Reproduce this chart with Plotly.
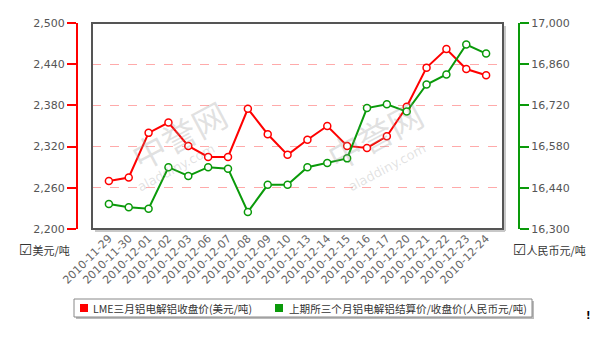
import plotly.graph_objects as go

W, H = 591, 337

dates = ["2010-11-29", "2010-11-30", "2010-12-01", "2010-12-02", "2010-12-03",
         "2010-12-06", "2010-12-07", "2010-12-08", "2010-12-09", "2010-12-10",
         "2010-12-13", "2010-12-14", "2010-12-15", "2010-12-16", "2010-12-17",
         "2010-12-20", "2010-12-21", "2010-12-22", "2010-12-23", "2010-12-24"]
lme = [2270, 2275, 2340, 2355, 2321, 2305, 2305, 2375, 2338, 2308,
       2330, 2350, 2321, 2318, 2335, 2378, 2435, 2462, 2433, 2424]
shfe = [16385, 16374, 16369, 16510, 16480, 16510, 16505, 16358, 16450, 16450,
        16510, 16524, 16540, 16711, 16724, 16699, 16791, 16825, 16927, 16896]
left_ticks = [2200, 2260, 2320, 2380, 2440, 2500]
right_ticks = [16300, 16440, 16580, 16720, 16860, 17000]
name_lme = "LME三月铝电解铝收盘价(美元/吨)"
name_shfe = "上期所三个月铝电解铝结算价/收盘价(人民币元/吨)"
left_unit = "美元/吨"
right_unit = "人民币元/吨"

RED = "#ff0000"
GREEN = "#0a9a0a"
FONT = "DejaVu Sans, Verdana, sans-serif"
CJK = "Noto Sans CJK SC, sans-serif"
CHECK = "<span style='font-family:DejaVu Sans;font-size:15px'>☑</span>"

px = lambda x: x / W
py = lambda y: 1 - y / H

x0p, x1p, y0p, y1p = 92, 503, 23, 229

fig = go.Figure()
fig.add_trace(go.Scatter(
    x=dates, y=lme, mode="lines+markers", name=name_lme, showlegend=False,
    line=dict(color=RED, width=2),
    marker=dict(size=7, color="white", line=dict(color=RED, width=1.5)),
    yaxis="y"))
fig.add_trace(go.Scatter(
    x=dates, y=shfe, mode="lines+markers", name=name_shfe, showlegend=False,
    line=dict(color=GREEN, width=2),
    marker=dict(size=7, color="white", line=dict(color=GREEN, width=1.5)),
    yaxis="y2"))

shapes = []
# frame shadow
shapes.append(dict(type="line", xref="paper", yref="paper",
                   x0=px(x0p + 3), x1=px(x1p + 2), y0=py(y1p + 2), y1=py(y1p + 2),
                   line=dict(color="#c8c8c8", width=2), layer="below"))
shapes.append(dict(type="line", xref="paper", yref="paper",
                   x0=px(x1p + 2), x1=px(x1p + 2), y0=py(y0p + 3), y1=py(y1p + 2),
                   line=dict(color="#c8c8c8", width=2), layer="below"))
# frame
shapes.append(dict(type="rect", xref="x domain", yref="y domain",
                   x0=0, x1=1, y0=0, y1=1,
                   line=dict(color="#555555", width=2), layer="above"))
# legend box + shadow
lx0, lx1, ly0, ly1 = 74, 532, 299, 317
shapes.append(dict(type="rect", xref="paper", yref="paper",
                   x0=px(lx0 + 2), x1=px(lx1 + 2), y0=py(ly1 + 2), y1=py(ly0 + 2),
                   line=dict(width=0), fillcolor="#bbbbbb"))
shapes.append(dict(type="rect", xref="paper", yref="paper",
                   x0=px(lx0), x1=px(lx1), y0=py(ly1), y1=py(ly0),
                   line=dict(color="#888888", width=1), fillcolor="white"))
shapes.append(dict(type="rect", xref="paper", yref="paper",
                   x0=px(80), x1=px(88), y0=py(312), y1=py(304),
                   line=dict(width=0), fillcolor=RED))
shapes.append(dict(type="rect", xref="paper", yref="paper",
                   x0=px(275), x1=px(283), y0=py(312), y1=py(304),
                   line=dict(width=0), fillcolor=GREEN))

annotations = [
    dict(x=px(91), y=py(308), xref="paper", yref="paper", xanchor="left", yanchor="middle",
         text=name_lme, showarrow=False, font=dict(family=CJK, size=10.6, color="#333333")),
    dict(x=px(287), y=py(308), xref="paper", yref="paper", xanchor="left", yanchor="middle",
         text=name_shfe, showarrow=False, font=dict(family=CJK, size=10.6, color="#333333")),
    dict(x=px(17), y=py(250), xref="paper", yref="paper", xanchor="left", yanchor="middle",
         text=CHECK + left_unit, showarrow=False, font=dict(family=CJK, size=11, color="#333333")),
    dict(x=px(511), y=py(250), xref="paper", yref="paper", xanchor="left", yanchor="middle",
         text=CHECK + right_unit, showarrow=False, font=dict(family=CJK, size=11, color="#333333")),
    dict(x=px(588), y=py(315), xref="paper", yref="paper", xanchor="center", yanchor="middle",
         text="<b>!</b>", showarrow=False, font=dict(family=FONT, size=10, color="#000000")),
]
# faint watermarks
for wx, wy in [(120, 135), (375, 135)]:
    annotations.append(dict(x=px(wx), y=py(wy), xref="paper", yref="paper",
                            text="中誉网", textangle=-28, showarrow=False,
                            font=dict(family=CJK, size=34, color="rgba(150,150,150,0.28)")))
    annotations.append(dict(x=px(wx + 12), y=py(wy + 32), xref="paper", yref="paper",
                            text="aladdiny.com", textangle=-28, showarrow=False,
                            font=dict(family=FONT, size=13, color="rgba(150,150,150,0.28)")))

axis_font = dict(family=FONT, size=11, color="#555555")

fig.update_layout(
    width=W, height=H, margin=dict(l=0, r=0, t=0, b=0, autoexpand=False),
    paper_bgcolor="white", plot_bgcolor="white",
    showlegend=False,
    xaxis=dict(domain=[px(x0p), px(x1p)], type="category", automargin=False,
               range=[-0.85, 19.85], tickangle=-45, showgrid=False,
               showline=False, zeroline=False, ticks="",
               tickfont=dict(family=FONT, size=11, color="#666666"),
               anchor="y"),
    yaxis=dict(domain=[py(y1p), py(y0p)], range=[2200, 2500], automargin=False,
               anchor="free", position=px(77), side="left",
               tickvals=left_ticks, tickformat=",d",
               showline=True, linecolor=RED, linewidth=2,
               ticks="outside", ticklen=9, tickwidth=2, tickcolor=RED,
               showgrid=True, gridcolor="#ffaaaa", griddash="dash", gridwidth=1,
               zeroline=False, tickfont=axis_font),
    yaxis2=dict(domain=[py(y1p), py(y0p)], range=[16300, 17000], automargin=False,
                anchor="free", position=px(519), side="right", overlaying="y",
                tickvals=right_ticks, tickformat=",d",
                showline=True, linecolor=GREEN, linewidth=2,
                ticks="outside", ticklen=9, tickwidth=2, tickcolor=GREEN,
                showgrid=False, zeroline=False, tickfont=axis_font),
    shapes=shapes, annotations=annotations,
)

fig.write_html("out.html")
